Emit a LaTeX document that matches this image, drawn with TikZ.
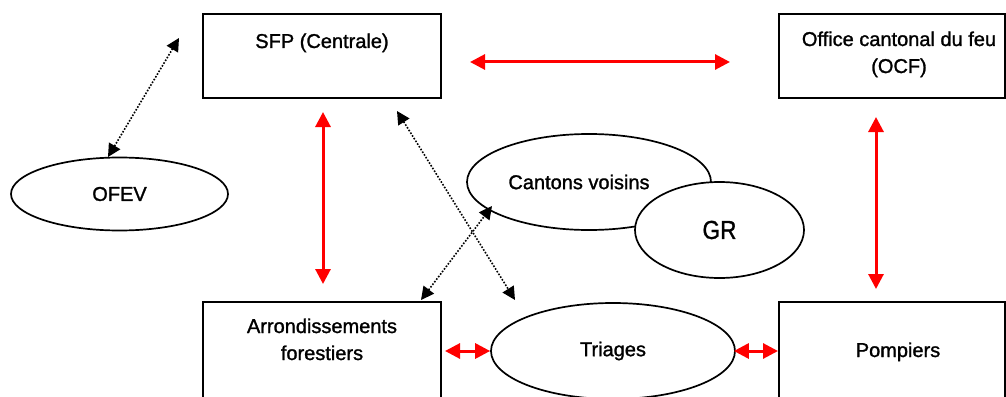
\documentclass[tikz,border=0pt]{standalone}
\usepackage{fontspec}
\setmainfont[FakeBold=1.3]{Liberation Sans}
\newfontfamily\grfont[FakeStretch=0.87,FakeBold=1.1]{Liberation Sans}
\usetikzlibrary{arrows.meta,shapes.geometric}
\begin{document}
\begin{tikzpicture}[x=1pt,y=-1pt,
  box/.style={draw=black,line width=2pt,inner sep=0pt},
  ell/.style={ellipse,draw=black,line width=1.7pt,fill=white,inner sep=0pt,
              font={\fontsize{20}{27}\selectfont}},
  lbl/.style={inner sep=0pt,font={\fontsize{20}{27}\selectfont},align=center},
  redarr/.style={draw=red,line width=3pt,
    {Triangle[length=15pt,width=15pt]}-{Triangle[length=15pt,width=15pt]}},
  dotarr/.style={draw=black,line width=1.6pt,dash pattern=on 1.6pt off 1.6pt,
    {Triangle[length=13pt,width=13pt]}-{Triangle[length=13pt,width=13pt]}}]
\path[use as bounding box] (0,0) rectangle (1006,396);
\clip (0,0) rectangle (1006,396);

% boxes
\node[box,minimum width=238pt,minimum height=84pt] (sfp) at (322,56) {};
\node[box,minimum width=226pt,minimum height=84pt] (ocf) at (892,56) {};
\node[box,minimum width=238pt,minimum height=100pt] (arr) at (322,352) {};
\node[box,minimum width=226pt,minimum height=100pt] (pomp) at (892,352) {};

\node[lbl,anchor=base] (sfpT) at (322,48) {SFP (Centrale)};
\node[lbl,anchor=base] (ocfT) at (899,73) {Office cantonal du feu\\(OCF)};
\node[lbl,anchor=base] (arrT) at (322,360) {Arrondissements\\forestiers};
\node[lbl,anchor=base] (pompT) at (898,357) {Pompiers};

% ellipses
\node[ell,minimum width=217pt,minimum height=73pt] (ofev) at (119.5,194) {OFEV};
\node[ell,minimum width=244pt,minimum height=96pt] (cant) at (589,182) {\hspace*{-20pt}Cantons voisins};
\node[ell,minimum width=169pt,minimum height=96pt,font={\grfont\fontsize{26}{30}\selectfont}] (gr) at (719.5,230) {GR};
\node[ell,minimum width=244pt,minimum height=96pt] (tri) at (613,351) {Triages};

% red connectors
\draw[redarr,shorten <=28pt,shorten >=48pt] ([yshift=-6pt]sfp.east) -- ([yshift=-6pt]ocf.west);
\draw[redarr,shorten <=13pt,shorten >=17pt] ([xshift=1pt]sfp.south) -- ([xshift=1pt]arr.north);
\draw[redarr,shorten <=18pt,shorten >=12pt] ([xshift=-16pt]ocf.south) -- ([xshift=-16pt]pomp.north);
\draw[redarr,shorten <=3pt] (arr.east |- tri.west) -- (tri.west);
\draw[redarr,shorten <=-2pt] (tri.east) -- (pomp.west |- tri.east);

% dotted connectors
\coordinate (d1a) at (108,157);
\coordinate (d1b) at (179,38);
\coordinate (d2a) at (397,111);
\coordinate (d2b) at (515,300);
\coordinate (d3a) at (421,300);
\coordinate (d3b) at (492,206);
\draw[dotarr] (d1a) -- (d1b);
\draw[dotarr] (d2a) -- (d2b);
\draw[dotarr] (d3a) -- (d3b);
\end{tikzpicture}
\end{document}
